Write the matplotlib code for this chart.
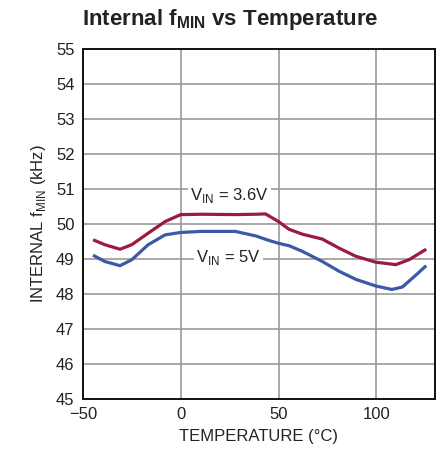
import matplotlib
matplotlib.use("Agg")
import matplotlib.pyplot as plt

temp_36 = [-44.8, -38.8, -31, -25, -16.6, -8, 0, 10.8, 27.9, 38.4, 43.3, 47, 50, 55.4, 62.2, 72.4, 81, 89.5, 99.7, 110, 116.7, 125.5]
fmin_36 = [49.55, 49.41, 49.28, 49.41, 49.74, 50.07, 50.27, 50.28, 50.27, 50.28, 50.29, 50.17, 50.07, 49.85, 49.71, 49.57, 49.31, 49.08, 48.91, 48.84, 48.98, 49.28]
temp_5 = [-44.8, -38.8, -31, -25, -16.6, -8, 0, 10.8, 27.9, 38.4, 45.2, 50, 55.4, 62.2, 72.4, 81, 89.5, 99.7, 108, 113.3, 119.2, 125.5]
fmin_5 = [49.11, 48.93, 48.81, 48.98, 49.41, 49.69, 49.76, 49.79, 49.79, 49.66, 49.53, 49.45, 49.38, 49.22, 48.93, 48.65, 48.42, 48.23, 48.13, 48.20, 48.49, 48.81]

x_ticks = [-50, 0, 50, 100]
y_ticks = list(range(45, 56))

fam = ['Liberation Sans Narrow', 'Liberation Sans', 'DejaVu Sans']
plt.rcParams['font.family'] = fam

fig = plt.figure(figsize=(4.48, 4.61), dpi=100)
ax = fig.add_axes([0.185, 0.1345, 0.786, 0.759])

ax.plot(temp_36, fmin_36, color='#9a1b3c', lw=2.3, solid_capstyle='butt', solid_joinstyle='round', zorder=3)
ax.plot(temp_5, fmin_5, color='#3a5aa8', lw=2.3, solid_capstyle='butt', solid_joinstyle='round', zorder=3)

ax.set_xlim(-50, 130)
ax.set_ylim(45, 55)
ax.set_xticks(x_ticks)
ax.set_xticklabels(['\u221250', '0', '50', '100'])
ax.set_yticks(y_ticks)
ax.tick_params(length=0, labelsize=12, colors='#222222', pad=6)
ax.grid(True, color='#999999', lw=1.2)
ax.set_axisbelow(True)
for s in ax.spines.values():
    s.set_linewidth(1.4)
    s.set_color('#111111')

ax.set_xlabel('TEMPERATURE (\u00b0C)', fontsize=12, color='#222222', labelpad=5)
ax.set_ylabel(r'INTERNAL f$_{\mathregular{MIN}}$ (kHz)', fontsize=12, color='#222222', labelpad=6)

bbox = dict(facecolor='white', edgecolor='none', pad=1.5)
ax.text(25, 50.83, r'V$_{\mathregular{IN}}$ = 3.6V', fontsize=12, ha='center', va='center', color='#222222', bbox=bbox, zorder=2)
ax.text(24.4, 49.05, r'V$_{\mathregular{IN}}$ = 5V', fontsize=12, ha='center', va='center', color='#222222', bbox=bbox, zorder=2)

fig.text(0.515, 0.958, r'Internal f$_{\mathregular{MIN}}$ vs Temperature', fontsize=16, fontweight='bold',
         ha='center', va='center', color='#222222')

fig.savefig('out.png', dpi=100)
